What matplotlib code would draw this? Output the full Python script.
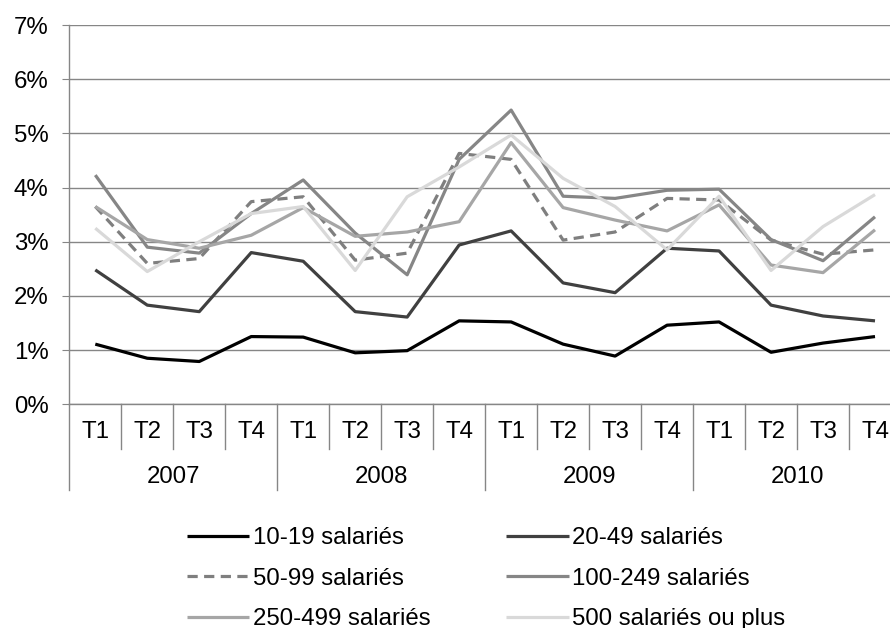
import numpy as np
import matplotlib
matplotlib.use("Agg")
import matplotlib.pyplot as plt
from matplotlib.ticker import FuncFormatter

plt.rcParams["font.family"] = ["Liberation Sans", "DejaVu Sans"]

# --- data (taux en %, par trimestre) ---
years = ["2007", "2008", "2009", "2010"]
quarters = ["T1", "T2", "T3", "T4"]

s_10_19 = [1.11, 0.85, 0.79, 1.25, 1.24, 0.95, 0.99, 1.54,
           1.52, 1.11, 0.89, 1.46, 1.52, 0.96, 1.13, 1.25]
s_20_49 = [2.48, 1.83, 1.71, 2.80, 2.64, 1.71, 1.61, 2.94,
           3.20, 2.24, 2.06, 2.88, 2.83, 1.83, 1.63, 1.54]
s_50_99 = [3.65, 2.60, 2.69, 3.74, 3.83, 2.66, 2.79, 4.63,
           4.52, 3.03, 3.18, 3.80, 3.77, 3.03, 2.77, 2.85]
s_100_249 = [4.23, 2.90, 2.79, 3.52, 4.14, 3.16, 2.39, 4.52,
             5.43, 3.84, 3.80, 3.95, 3.97, 3.04, 2.65, 3.46]
s_250_499 = [3.65, 3.04, 2.88, 3.12, 3.63, 3.10, 3.18, 3.37,
             4.83, 3.63, 3.40, 3.20, 3.68, 2.57, 2.43, 3.22]
s_500_plus = [3.25, 2.45, 3.00, 3.52, 3.65, 2.47, 3.83, 4.38,
              4.97, 4.17, 3.65, 2.85, 3.84, 2.47, 3.28, 3.87]

series = [
    ("10-19 salariés", s_10_19, "#000000", "-"),
    ("20-49 salariés", s_20_49, "#404040", "-"),
    ("50-99 salariés", s_50_99, "#7f7f7f", "--"),
    ("100-249 salariés", s_100_249, "#868686", "-"),
    ("250-499 salariés", s_250_499, "#a6a6a6", "-"),
    ("500 salariés ou plus", s_500_plus, "#d9d9d9", "-"),
]

GRID = "#868686"
FS = 17.3

fig = plt.figure(figsize=(8.9, 6.28), dpi=100)
# plot area runs a bit past the right edge of the image, like the original
ax = fig.add_axes([69.3 / 890, (628 - 404.3) / 628, (901 - 69.3) / 890, 379.3 / 628])

n = len(years) * len(quarters)
x = np.arange(n)
handles = []
for label, vals, color, ls in series:
    line, = ax.plot(x, vals, color=color, lw=2.3, ls=ls, label=label,
                    solid_capstyle="butt", dash_capstyle="butt")
    if ls == "--":
        line.set_dashes((3.2, 2.0))
    handles.append(line)

ax.set_xlim(-0.5, n - 0.5)
ax.set_ylim(0, 7)
ax.set_yticks(np.arange(0, 8, 1))
ax.yaxis.set_major_formatter(FuncFormatter(lambda v, p: f"{v:.0f}%"))
ax.grid(axis="y", color=GRID, lw=1)
ax.set_axisbelow(True)

for side in ["top", "right"]:
    ax.spines[side].set_visible(False)
for side in ["left", "bottom"]:
    ax.spines[side].set_color(GRID)
    ax.spines[side].set_linewidth(1)

ax.tick_params(axis="y", length=5, color=GRID, pad=10, labelsize=FS)
ax.set_xticks([])

# two-level category axis
h_ax = 379.3
trans = ax.get_xaxis_transform()
for b in range(n + 1):
    depth = 86 if b % 4 == 0 else 45
    ax.plot([b - 0.5, b - 0.5], [0, -depth / h_ax], color=GRID, lw=1,
            transform=trans, clip_on=False)
for i in range(n):
    ax.text(x[i], -28 / h_ax, quarters[i % 4], transform=trans,
            ha="center", va="center", fontsize=FS)
for j, yr in enumerate(years):
    ax.text(j * 4 + 1.5, -73 / h_ax, yr, transform=trans,
            ha="center", va="center", fontsize=FS)

order = [0, 2, 4, 1, 3, 5]
fig.legend([handles[i] for i in order], [series[i][0] for i in order],
           ncol=2, frameon=False, fontsize=FS, loc="upper left",
           bbox_to_anchor=(187 / 890, 1 - 527 / 628), borderaxespad=0,
           borderpad=0, handlelength=2.6, handletextpad=0.15,
           columnspacing=3.15, labelspacing=0.78)

fig.savefig("out.png", dpi=100)
